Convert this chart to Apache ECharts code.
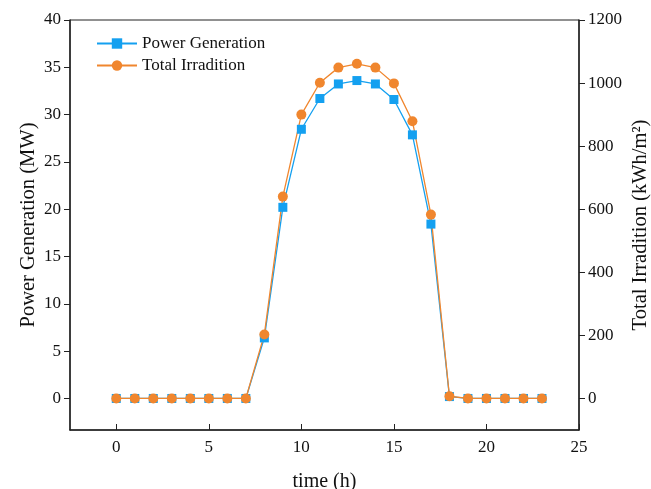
<!DOCTYPE html>
<html><head><meta charset="utf-8">
<script src="https://cdn.jsdelivr.net/npm/echarts@6/dist/echarts.min.js"></script>
<style>html,body{margin:0;padding:0;background:#fff}#c{width:651px;height:489px}</style>
</head><body><div id="c"></div>
<script>
const hours = [0,1,2,3,4,5,6,7,8,9,10,11,12,13,14,15,16,17,18,19,20,21,22,23];
const power = [0,0,0,0,0,0,0,0,6.4,20.2,28.45,31.7,33.24,33.6,33.24,31.6,27.86,18.43,0.2,0,0,0,0,0];
const irradiation = [0,0,0,0,0,0,0,0,203,640,900,1001,1049,1061,1049,999,879,583,7,0,0,0,0,0];
const xTicks = [0,5,10,15,20,25];
const leftTicks = [0,5,10,15,20,25,30,35,40];
const rightTicks = [0,200,400,600,800,1000,1200];

const font = 'Liberation Serif';
const blue = '#14a0f0';
const orange = '#f0862e';
const chart = echarts.init(document.getElementById('c'));
chart.setOption({
  animation: false,
  textStyle: {fontFamily: font},
  grid: {left: 70, right: 72, top: 20, bottom: 59, show: true, borderColor: '#222', borderWidth: 1,
         containLabel: false, outerBoundsMode: 'none'},
  legend: {
    left: 91, top: 30, orient: 'vertical', itemGap: 5, itemWidth: 40, itemHeight: 13,
    textStyle: {fontFamily: font, fontSize: 17, color: '#111'},
    data: ['Power Generation', 'Total Irradition']
  },
  xAxis: {
    type: 'value', min: -2.5, max: 25,
    name: 'time (h)', nameLocation: 'middle', nameGap: 42, nameMoveOverlap: false,
    nameTextStyle: {fontFamily: font, fontSize: 20, color: '#111'},
    axisLine: {onZero: false, lineStyle: {color: '#222', width: 1.5}},
    axisTick: {inside: true, length: 6, customValues: xTicks, lineStyle: {color: '#222'}},
    axisLabel: {customValues: xTicks, fontFamily: font, fontSize: 17, color: '#111', margin: 9},
    splitLine: {show: false}
  },
  yAxis: [{
    type: 'value', min: -10/3, max: 40, position: 'left',
    name: 'Power Generation (MW)', nameLocation: 'middle', nameGap: 31, nameMoveOverlap: false,
    nameTextStyle: {fontFamily: font, fontSize: 20.5, color: '#111'},
    axisLine: {show: true, onZero: false, lineStyle: {color: '#222', width: 1.5}},
    axisTick: {show: true, inside: false, length: 6, customValues: leftTicks, lineStyle: {color: '#222'}},
    axisLabel: {customValues: leftTicks, fontFamily: font, fontSize: 17, color: '#111', margin: 9},
    splitLine: {show: false}
  }, {
    type: 'value', min: -100, max: 1200, position: 'right',
    name: 'Total Irradition (kWh/m²)', nameLocation: 'middle', nameGap: 51, nameRotate: 90, nameMoveOverlap: false,
    nameTextStyle: {fontFamily: font, fontSize: 20.5, color: '#111'},
    axisLine: {show: true, onZero: false, lineStyle: {color: '#222', width: 1.5}},
    axisTick: {show: true, inside: false, length: 6, customValues: rightTicks, lineStyle: {color: '#222'}},
    axisLabel: {customValues: rightTicks, formatter: v => String(v), fontFamily: font, fontSize: 17, color: '#111', margin: 9},
    splitLine: {show: false}
  }],
  series: [{
    name: 'Power Generation', type: 'line', yAxisIndex: 0,
    data: hours.map((h, i) => [h, power[i]]),
    symbol: 'rect', symbolSize: 9,
    lineStyle: {color: blue, width: 1.3}, itemStyle: {color: blue}
  }, {
    name: 'Total Irradition', type: 'line', yAxisIndex: 1,
    data: hours.map((h, i) => [h, irradiation[i]]),
    symbol: 'circle', symbolSize: 10,
    lineStyle: {color: orange, width: 1.3}, itemStyle: {color: orange}
  }]
});
</script></body></html>
